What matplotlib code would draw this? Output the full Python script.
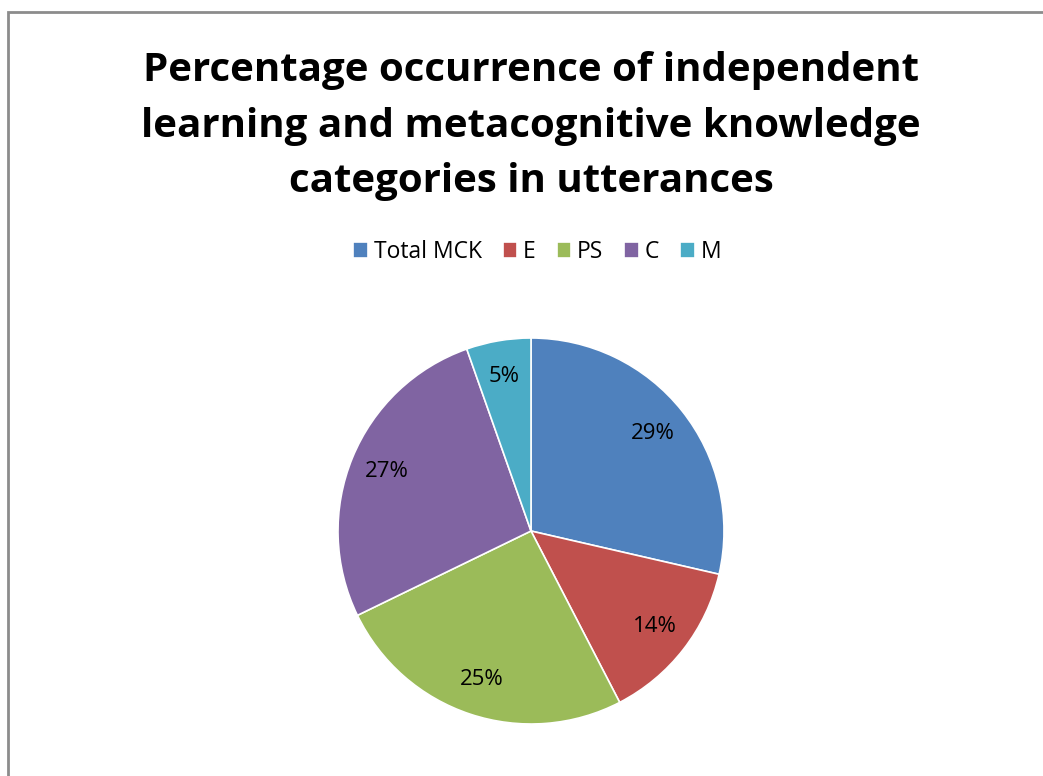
import matplotlib.pyplot as plt
from matplotlib.patches import Rectangle

categories = ['Total MCK', 'E', 'PS', 'C', 'M']
shares = [28.6, 13.8, 25.4, 26.8, 5.4]
colors = ['#4F81BD', '#C0504D', '#9BBB59', '#8064A2', '#4BACC6']
title = ('Percentage occurrence of independent\n'
         'learning and metacognitive knowledge\n'
         'categories in utterances')


def create_plot():
    plt.rcParams['font.family'] = ['Open Sans', 'DejaVu Sans']
    fig = plt.figure(figsize=(10.43, 7.76), dpi=100)

    # chart frame (cut off at right and bottom)
    fig.patches.append(Rectangle((8 / 1043, -0.1), 1.2, 1.1 - 12 / 776,
                                 transform=fig.transFigure, fill=False,
                                 edgecolor='#8c8c8c', linewidth=2))

    fig.text(0.509, 1 - 126 / 776, title, ha='center', va='center',
             fontsize=29, fontweight='bold', linespacing=1.55)

    cx, cy, r = 531 / 1043, 1 - 531 / 776, 193
    ax = fig.add_axes([cx - r / 1043, cy - r / 776, 2 * r / 1043, 2 * r / 776])
    wedges, texts, autotexts = ax.pie(
        shares, colors=colors, startangle=90, counterclock=False,
        autopct=lambda p: '%d%%' % round(p), pctdistance=0.81,
        wedgeprops=dict(edgecolor='white', linewidth=1.2),
        textprops=dict(fontsize=16))
    ax.set_xlim(-1, 1)
    ax.set_ylim(-1, 1)

    fig.legend(wedges, categories, loc='center', bbox_to_anchor=(0.515, 1 - 252 / 776),
               ncol=5, frameon=False, fontsize=16.5, handlelength=0.65,
               handleheight=0.65, handletextpad=0.25, columnspacing=0.9)

    fig.savefig('out.png', dpi=100)


if __name__ == '__main__':
    create_plot()
